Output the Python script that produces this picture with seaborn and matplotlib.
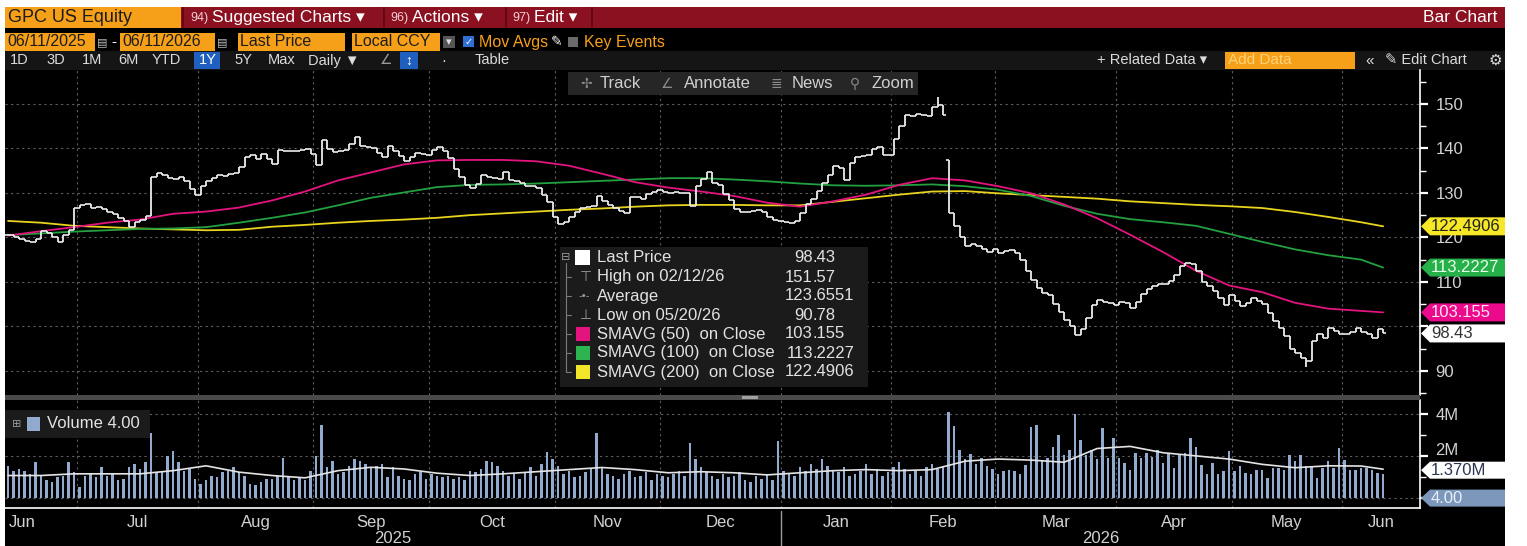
import matplotlib
matplotlib.use("Agg")
import matplotlib.pyplot as plt
import matplotlib.transforms as mtransforms
from matplotlib.patches import Rectangle, Polygon
import seaborn as sns
import numpy as np
import pandas as pd

# GPC US Equity, daily bars 06/11/2025 - 06/10/2026
close = [120.5, 120.2, 119.6, 119.3, 119.0, 119.6, 121.5, 121.0, 120.0, 119.0,
         120.5, 121.7, 126.5, 127.2, 127.6, 126.5, 126.8, 126.3, 125.6, 125.2,
         124.3, 123.6, 122.4, 123.4, 124.0, 124.8, 133.6, 134.5, 134.0, 133.4,
         133.2, 133.6, 132.6, 130.8, 129.5, 131.5, 132.6, 133.4, 134.0, 133.8,
         134.2, 134.5, 135.8, 138.0, 138.4, 137.6, 138.8, 137.5, 136.5, 139.6,
         139.5, 139.3, 139.5, 139.6, 139.8, 138.8, 136.2, 141.8, 139.8, 139.2,
         139.3, 139.7, 141.0, 142.5, 140.5, 140.2, 140.0, 139.0, 138.0, 140.5,
         139.5, 138.3, 137.2, 138.0, 139.0, 138.8, 138.5, 139.6, 140.4, 139.5,
         137.8, 135.3, 133.6, 131.8, 131.0, 132.0, 134.0, 133.6, 133.4, 133.2,
         134.8, 133.0, 132.6, 132.2, 131.5, 131.6, 131.0, 129.6, 128.0, 124.5,
         122.9, 123.4, 124.5, 125.6, 126.5, 126.8, 127.0, 129.3, 128.2, 127.3,
         126.5, 126.0, 125.5, 129.0, 129.0, 128.6, 129.8, 130.2, 130.6, 130.2,
         130.0, 130.2, 130.0, 129.9, 127.0, 131.5, 133.2, 134.6, 132.2, 131.8,
         129.8, 128.4, 126.4, 125.8, 125.6, 126.0, 126.2, 125.8, 124.5, 124.0,
         123.6, 123.4, 123.2, 123.6, 125.5, 127.5, 128.6, 130.5, 132.3, 134.0,
         136.0, 135.5, 133.0, 136.8, 138.0, 138.3, 138.6, 139.8, 140.4, 138.6,
         138.5, 142.0, 145.0, 147.5, 147.2, 147.8, 147.5, 147.2, 149.4, 149.8,
         147.5, 125.5, 122.5, 120.0, 118.0, 118.6, 118.0, 117.4, 116.8, 117.3,
         116.6, 117.0, 117.2, 116.5, 115.0, 112.5, 110.5, 108.6, 107.6, 107.0,
         105.0, 103.3, 101.5, 100.2, 98.0, 99.5, 102.0, 104.8, 106.0, 105.5,
         105.2, 104.8, 105.5, 105.2, 104.2, 105.6, 107.2, 108.4, 109.0, 109.6,
         109.5, 110.3, 111.6, 113.5, 114.2, 114.0, 112.5, 110.0, 109.0, 108.0,
         106.3, 104.8, 107.0, 105.8, 104.5, 105.2, 106.5, 105.8, 105.0, 103.0,
         101.3, 99.6, 97.8, 95.0, 94.1, 93.0, 92.3, 96.8, 98.2, 97.3,
         99.6, 99.0, 98.2, 98.4, 98.8, 99.6, 98.7, 98.2, 97.3, 99.4,
         98.43]

holidays = ['2025-06-19', '2025-07-04', '2025-09-01', '2025-11-27', '2025-12-25',
            '2026-01-01', '2026-01-19', '2026-02-16', '2026-04-03', '2026-05-25']

gap_open = {171: 137.4}    # earnings gap
day_high = {169: 151.57}   # High on 02/12/26
day_low = {236: 90.78}     # Low on 05/20/26

# volume, millions of shares
volume = [1.53, 1.30, 1.38, 1.30, 1.15, 1.69, 1.07, 0.84, 0.76, 0.99,
          1.07, 1.69, 1.23, 0.53, 1.07, 1.15, 0.99, 1.46, 1.07, 1.15,
          0.84, 0.92, 1.46, 1.61, 1.38, 1.69, 3.08, 1.23, 1.30, 2.00,
          2.23, 1.69, 1.30, 1.38, 0.92, 0.68, 0.84, 1.07, 0.99, 1.23,
          1.30, 1.46, 1.23, 1.07, 0.68, 0.60, 0.76, 0.92, 0.92, 1.07,
          1.92, 0.99, 0.84, 0.99, 0.84, 1.30, 2.00, 3.47, 1.46, 1.77,
          1.15, 1.23, 1.53, 1.84, 1.77, 1.61, 1.46, 1.53, 1.61, 0.99,
          1.46, 1.07, 0.92, 0.84, 1.15, 1.23, 0.92, 1.15, 1.07, 0.99,
          1.07, 0.92, 0.99, 0.84, 1.30, 1.23, 1.38, 1.77, 1.69, 1.53,
          1.30, 1.07, 1.15, 0.92, 1.23, 1.46, 1.07, 1.61, 2.20, 1.84,
          1.53, 1.15, 1.30, 0.99, 1.07, 1.23, 1.38, 3.10, 1.46, 1.15,
          1.07, 0.92, 1.15, 1.30, 0.99, 1.07, 1.23, 0.84, 1.15, 1.07,
          0.99, 1.15, 1.30, 1.07, 2.60, 1.84, 1.46, 1.23, 1.07, 0.92,
          1.15, 0.99, 1.07, 1.23, 0.84, 0.76, 1.07, 0.92, 1.15, 0.84,
          2.70, 1.30, 1.15, 1.07, 1.46, 1.30, 1.61, 1.38, 1.84, 1.53,
          1.30, 1.23, 1.46, 1.07, 1.15, 1.30, 1.61, 1.15, 1.38, 1.07,
          1.23, 1.46, 1.69, 1.38, 1.15, 1.30, 1.07, 1.46, 1.61, 1.38,
          1.50, 4.10, 3.40, 2.30, 1.84, 2.10, 1.61, 1.92, 1.53, 1.38,
          1.12, 1.27, 1.35, 1.27, 1.12, 1.58, 3.38, 3.46, 1.74, 1.90,
          2.44, 2.99, 2.05, 2.29, 4.00, 2.76, 2.05, 2.29, 1.84, 3.30,
          1.90, 2.84, 1.90, 1.66, 1.35, 2.13, 1.90, 2.13, 1.97, 2.29,
          1.66, 2.13, 1.43, 2.05, 2.13, 2.84, 2.44, 1.58, 1.12, 1.66,
          1.12, 1.27, 2.21, 1.27, 1.50, 1.20, 1.12, 1.35, 1.35, 0.97,
          1.43, 1.43, 1.35, 2.05, 1.74, 2.05, 1.50, 1.50, 0.97, 1.43,
          1.74, 1.43, 2.36, 1.81, 1.35, 1.35, 1.43, 1.43, 1.35, 1.20,
          1.12]

# moving averages, read every 6th bar
ma_idx = list(range(0, 247, 6)) + [250]
sma50 = [120.4, 121.4, 122.3, 123.3, 124.0, 125.3, 125.8, 126.7, 128.3, 130.3,
         132.8, 134.6, 136.4, 137.3, 137.4, 137.4, 137.1, 136.1, 134.3, 132.4,
         131.2, 130.3, 129.3, 127.8, 126.9, 128.1, 129.6, 131.8, 133.3, 132.8,
         131.5, 129.9, 127.4, 124.3, 120.6, 116.7, 112.5, 109.2, 107.7, 105.3,
         104.0, 103.5, 103.155]
sma100 = [120.5, 120.9, 121.3, 121.6, 121.9, 122.0, 122.3, 123.3, 124.4, 125.6,
          127.2, 128.9, 130.1, 131.3, 131.8, 131.9, 132.1, 132.4, 132.7, 133.0,
          133.3, 133.3, 133.0, 132.6, 132.1, 131.7, 131.6, 131.7, 131.9, 131.5,
          130.7, 129.3, 127.1, 125.3, 124.1, 123.4, 122.6, 120.8, 119.0, 117.3,
          116.0, 115.0, 113.2227]
sma200 = [123.7, 123.3, 122.6, 122.3, 122.0, 121.8, 121.6, 121.7, 122.4, 122.8,
          123.3, 123.7, 124.0, 124.4, 125.0, 125.4, 125.8, 126.2, 126.5, 126.9,
          127.2, 127.3, 127.3, 127.2, 127.2, 128.0, 128.8, 129.6, 130.3, 130.4,
          129.9, 129.5, 129.1, 128.7, 128.1, 127.7, 127.3, 127.0, 126.6, 125.7,
          124.6, 123.4, 122.4906]
vol_avg = [1.07, 1.07, 1.15, 1.15, 1.15, 1.30, 1.53, 1.23, 1.07, 0.96,
           1.30, 1.46, 1.38, 1.18, 1.07, 1.15, 1.25, 1.35, 1.45, 1.35,
           1.20, 1.25, 1.20, 1.10, 1.20, 1.30, 1.35, 1.30, 1.35, 1.75,
           1.85, 1.80, 1.70, 2.35, 2.45, 2.15, 2.00, 1.85, 1.60, 1.44,
           1.53, 1.52, 1.37]

legend_labels = ['Last Price', 'High on 02/12/26', 'Average', 'Low on 05/20/26',
                 'SMAVG (50)  on Close', 'SMAVG (100)  on Close', 'SMAVG (200)  on Close']
legend_values = ['98.43', '151.57', '123.6551', '90.78', '103.155', '113.2227', '122.4906']

# colours
ORANGE = '#f6a01a'
RED = '#8b1020'
BAR = '#ececec'
PINK = '#e4147f'
GREEN = '#23a040'
YELLOW = '#e8d41e'
VOLC = '#93aacf'
GRID = '#5e5e5e'
LBL = '#d2d2d2'

sns.set_style('dark')
plt.rcParams['font.family'] = ['Liberation Sans Narrow', 'DejaVu Sans Condensed',
                               'Liberation Sans', 'DejaVu Sans']

W, H = 1527, 546
fig = plt.figure(figsize=(W / 100, H / 100), dpi=100, facecolor='white')


def frac(x0, y0, x1, y1):
    return [x0 / W, 1 - y1 / H, (x1 - x0) / W, (y1 - y0) / H]


bg = fig.add_axes([0, 0, 1, 1], zorder=0)
bg.set_xlim(0, W); bg.set_ylim(H, 0); bg.axis('off')
ax = fig.add_axes(frac(5, 70, 1420, 395), zorder=1)
axv = fig.add_axes(frac(5, 400, 1420, 508), zorder=1)
fg = fig.add_axes([0, 0, 1, 1], zorder=3)
fg.set_xlim(0, W); fg.set_ylim(H, 0); fg.axis('off')


def box(a, x0, y0, x1, y1, color, z=1):
    a.add_patch(Rectangle((x0, y0), x1 - x0, y1 - y0, facecolor=color, edgecolor='none', zorder=z))


def txt(a, x, y, s, color, size, ha='left', z=2, **kw):
    a.text(x, y, s, color=color, fontsize=size, ha=ha, va='center', zorder=z, **kw)


# ---- screen chrome
box(bg, 5, 7, 1505, H, 'black')
box(bg, 5, 7, 1505, 28, RED)
box(bg, 5, 51, 1505, 70, '#151515')

box(fg, 5, 7, 181, 28, ORANGE)
txt(fg, 8, 17.5, 'GPC US Equity', '#1c1c1c', 13)
for xs, num, lab in [(190, '94)', 'Suggested Charts \u25be'), (390, '96)', 'Actions \u25be'),
                     (512, '97)', 'Edit \u25be')]:
    txt(fg, xs, 17.5, num, '#f2cfd3', 9)
    txt(fg, xs + 22, 17.5, lab, 'white', 12.5)
for xl in [183, 384, 506, 592]:
    fg.plot([xl, xl], [8, 27], color='#5a0811', lw=1.2)
txt(fg, 1497, 17.5, 'Bar Chart', 'white', 12.5, ha='right')

for x0, x1, s in [(5, 95, '06/11/2025'), (120, 215, '06/11/2026'),
                  (238, 345, 'Last Price'), (352, 440, 'Local CCY')]:
    box(fg, x0, 33, x1, 51, ORANGE)
    txt(fg, x0 + 2, 42, s, '#1c1c1c', 11.5)
txt(fg, 97, 42, '\u25a4', '#bbbbbb', 8)
txt(fg, 111, 42, '-', 'white', 11)
txt(fg, 217, 42, '\u25a4', '#bbbbbb', 8)
box(fg, 443, 36, 455, 48, '#555555')
txt(fg, 449, 42, '\u25be', '#dddddd', 8, ha='center')
box(fg, 463, 36, 474, 47, '#2f6fd6')
txt(fg, 468.5, 41.5, '\u2713', 'white', 7, ha='center')
txt(fg, 479, 42, 'Mov Avgs', ORANGE, 11.5)
txt(fg, 551, 42, '\u270e', 'white', 10)
box(fg, 568, 37, 578, 47, '#6a6a6a')
txt(fg, 584, 42, 'Key Events', ORANGE, 11.5)

for xs, s in [(10, '1D'), (46, '3D'), (82, '1M'), (118, '6M'), (152, 'YTD'),
              (234, '5Y'), (268, 'Max'), (308, 'Daily \u25bc'), (441, '\u00b7'), (475, 'Table')]:
    txt(fg, xs, 60.5, s, '#dcdcdc', 10.5)
box(fg, 194, 52, 220, 69, '#1f5fbf')
txt(fg, 199, 60.5, '1Y', 'white', 10.5)
txt(fg, 380, 60.5, '\u2220', '#9a9a9a', 10)
box(fg, 400, 52, 418, 69, '#1f5fbf')
txt(fg, 409, 60.5, '\u2195', 'white', 10, ha='center')
txt(fg, 1097, 60.5, '+ Related Data \u25be', '#dcdcdc', 10.5)
box(fg, 1225, 52, 1355, 69, ORANGE)
txt(fg, 1228, 60.5, 'Add Data', '#ffd27a', 11)
txt(fg, 1365, 60.5, '\u00ab', '#dcdcdc', 11)
txt(fg, 1385, 60.5, '\u270e Edit Chart', '#dcdcdc', 10.5)
txt(fg, 1489, 60.5, '\u2699', '#dcdcdc', 11)

# floating chart tool bar
box(fg, 568, 72, 918, 95, '#262626')
for xi, xs, icon, s in [(586, 600, '\u2722', 'Track'), (667, 684, '\u2220', 'Annotate'),
                        (776, 792, '\u2263', 'News'), (855, 871, '\u26b2', 'Zoom')]:
    txt(fg, xi, 83.5, icon, '#8a8a8a', 10, ha='center')
    txt(fg, xs, 83.5, s, '#d0d0d0', 12)

# ---- dates and bars
dates = pd.bdate_range('2025-06-11', periods=len(close), freq='C', holidays=holidays)
idx = np.arange(len(close))
months = dates.to_period('M')
new_month = np.r_[False, months[1:] != months[:-1]]
bounds = idx[new_month] - 0.5
x0, x1 = -0.55, 256.7
edges = np.r_[x0, bounds, x1]
mids = (edges[:-1] + edges[1:]) / 2
mids[0] = 2.5
month_labels = [dates[0].strftime('%b')] + [d.strftime('%b') for d in dates[new_month]]
year_split = idx[dates.year == 2026][0] - 0.5

s_close = pd.Series(close, dtype=float)
s_open = s_close.shift(1).fillna(s_close.iloc[0])
for k, v in gap_open.items():
    s_open[k] = v
high = np.maximum(s_open, s_close)
low = np.minimum(s_open, s_close)
for k, v in day_high.items():
    high[k] = v
for k, v in day_low.items():
    low[k] = v

# ---- price panel
ax.set_facecolor('black')
sns.lineplot(x=ma_idx, y=sma200, color=YELLOW, lw=1.3, ax=ax, zorder=2)
sns.lineplot(x=ma_idx, y=sma100, color=GREEN, lw=1.3, ax=ax, zorder=2)
sns.lineplot(x=ma_idx, y=sma50, color=PINK, lw=1.3, ax=ax, zorder=2)
ax.vlines(idx, low, high, colors=BAR, lw=1.3, zorder=3)
ax.hlines(s_open, idx - 0.5, idx, colors=BAR, lw=1.2, zorder=3)
ax.hlines(s_close, idx, idx + 0.5, colors=BAR, lw=1.2, zorder=3)

ax.set_xlim(x0, x1)
ax.set_ylim(84.6, 157.6)
ax.yaxis.tick_right()
ax.set_yticks(range(90, 151, 10))
ax.set_yticklabels(['90', '', '110', '120', '130', '140', '150'])
ax.set_yticks(range(85, 156, 10), minor=True)
ax.set_xticks(bounds)
ax.tick_params(axis='x', length=0, labelbottom=False)
ax.tick_params(axis='y', which='major', colors='white', labelcolor=LBL, labelsize=12,
               length=6, width=1.6, pad=5)
ax.tick_params(axis='y', which='minor', colors='white', length=4, width=1)
ax.grid(True, which='major', color=GRID, linestyle=(0, (2, 3)), linewidth=0.8)
ax.set_xlabel(''); ax.set_ylabel('')
for sp in ['left', 'top', 'bottom']:
    ax.spines[sp].set_visible(False)
ax.spines['right'].set_color('white')
ax.spines['right'].set_linewidth(1.2)

# ---- volume panel
axv.set_facecolor('black')
sns.barplot(x=idx, y=volume, native_scale=True, color=VOLC, width=0.45, saturation=1,
            errorbar=None, linewidth=0, ax=axv, zorder=2)
sns.lineplot(x=ma_idx, y=vol_avg, color='#e4e4e4', lw=1.2, ax=axv, zorder=3)
axv.set_xlim(x0, x1)
axv.set_ylim(-0.47, 4.65)
axv.yaxis.tick_right()
axv.set_yticks([0, 2, 4])
axv.set_yticklabels(['', '2M', '4M'])
axv.set_yticks([1, 3], minor=True)
axv.set_xticks(bounds)
axv.set_xticklabels([])
axv.set_xticks(mids, minor=True)
axv.set_xticklabels(month_labels, minor=True)
axv.tick_params(axis='x', which='major', colors='white', length=4, width=1)
axv.tick_params(axis='x', which='minor', length=0, labelcolor=LBL, labelsize=12, pad=5)
axv.tick_params(axis='y', which='major', colors='white', labelcolor=LBL, labelsize=12,
                length=6, width=1.6, pad=5)
axv.tick_params(axis='y', which='minor', colors='white', length=4, width=1)
axv.grid(True, which='major', color=GRID, linestyle=(0, (2, 3)), linewidth=0.8)
axv.set_xlabel(''); axv.set_ylabel('')
for sp in ['left', 'top']:
    axv.spines[sp].set_visible(False)
for sp in ['right', 'bottom']:
    axv.spines[sp].set_color('white')
    axv.spines[sp].set_linewidth(1.2)
# lift the "2M" label so the 1.370M tag only covers its foot
lift = mtransforms.ScaledTranslation(0, 5 / 72, fig.dpi_scale_trans)
lab2m = axv.get_yticklabels()[1]
lab2m.set_transform(lab2m.get_transform() + lift)

tr = mtransforms.blended_transform_factory(axv.transData, axv.transAxes)
axv.text((x0 + year_split) / 2, -0.28, '2025', transform=tr, ha='center', va='center',
         color=LBL, fontsize=12)
axv.text((year_split + x1) / 2, -0.28, '2026', transform=tr, ha='center', va='center',
         color=LBL, fontsize=12)
axv.plot([year_split, year_split], [-0.03, -0.4], transform=tr, color='#9a9a9a', lw=1,
         clip_on=False)

# panel divider
box(fg, 5, 395, 1420, 400, '#4a4a4a')
box(fg, 742, 396, 758, 399, '#a0a0a0')

# ---- value tags on the right axis


def ypix(a, v):
    return H - a.transData.transform((0, v))[1]


def tag(y, s, face, color, h=18):
    xa, xb = 1421, 1505
    fg.add_patch(Polygon([(xa, y), (xa + 9, y - h / 2), (xb, y - h / 2), (xb, y + h / 2),
                          (xa + 9, y + h / 2)], closed=True, facecolor=face,
                         edgecolor='none', zorder=4))
    txt(fg, xa + 10, y, s, color, 12, z=5)


tag(ypix(ax, sma200[-1]), legend_values[6], '#f6e826', '#222222')
tag(ypix(ax, sma100[-1]), legend_values[5], '#25b04a', '#e8ffe8')
tag(ypix(ax, sma50[-1]), legend_values[4], '#eb0a8c', '#ffe6f4')
tag(ypix(ax, close[-1]), legend_values[0], 'white', '#333333')
tag(ypix(axv, vol_avg[-1]) + 1, '1.370M', 'white', '#2a3550', h=17)
tag(ypix(axv, 0), '4.00', '#7d97bb', '#e6eef8', h=17)

# ---- price legend box
box(fg, 560, 247, 868, 387, '#1b1b1b', z=3)
fg.plot([566, 566], [263, 372], color='#7a7a7a', lw=0.8, zorder=4)
rows_y = [258, 277, 296, 315, 334, 353, 372]
txt(fg, 566, 257, '\u229f', '#9a9a9a', 8, ha='center', z=5)
for y in rows_y[1:]:
    fg.plot([566, 571], [y, y], color='#7a7a7a', lw=0.8, zorder=4)
box(fg, 575, 250, 590, 265, 'white', z=4)
txt(fg, 586, 277, '\u22a4', '#9a9a9a', 10, ha='center', z=5)
txt(fg, 584, 296, '-\u2022-', '#9a9a9a', 8, ha='center', z=5)
txt(fg, 586, 315, '\u22a5', '#9a9a9a', 10, ha='center', z=5)
for y, c in zip(rows_y[4:], [PINK, '#2db34f', '#f3e62a']):
    box(fg, 576, y - 7, 590, y + 7, c, z=4)
for y, lab, val in zip(rows_y, legend_labels, legend_values):
    txt(fg, 597, y, lab, '#e2e2e2', 12, z=5)
    whole, dec = val.split('.')
    txt(fg, 813, y, whole, '#e2e2e2', 12, ha='right', z=5)
    txt(fg, 813, y, '.' + dec, '#e2e2e2', 12, z=5)

# ---- volume legend box
box(fg, 5, 410, 150, 438, '#1b1b1b', z=3)
txt(fg, 17, 424, '\u229e', '#9a9a9a', 8, ha='center', z=5)
box(fg, 27, 417, 40, 431, VOLC, z=4)
txt(fg, 47, 424, 'Volume 4.00', '#e2e2e2', 12, z=5)

fig.savefig('out.png', dpi=100, facecolor='white')
